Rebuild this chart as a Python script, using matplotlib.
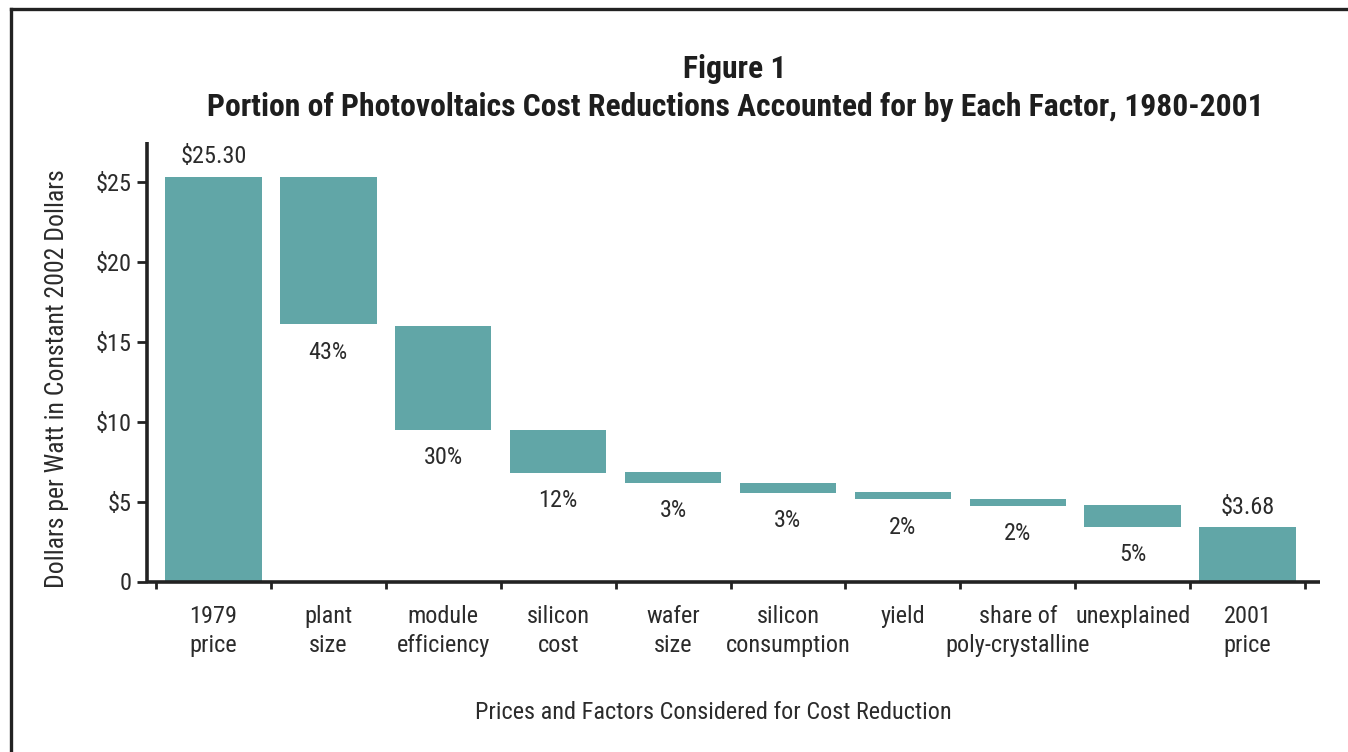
import matplotlib
matplotlib.use("Agg")
import matplotlib.pyplot as plt
from matplotlib import font_manager
from matplotlib.lines import Line2D
import numpy as np

# ---------------- data ----------------
categories = ["1979\nprice", "plant\nsize", "module\nefficiency", "silicon\ncost",
              "wafer\nsize", "silicon\nconsumption", "yield",
              "share of\npoly-crystalline", "unexplained", "2001\nprice"]
bar_top = [25.30, 25.26, 15.97, 9.49, 6.84, 6.16, 5.59, 5.16, 4.78, 3.41]
bar_bottom = [0.0, 16.07, 9.49, 6.80, 6.17, 5.55, 5.16, 4.74, 3.43, 0.0]
price_labels = {0: "$25.30", 9: "$3.68"}
pct_labels = {1: "43%", 2: "30%", 3: "12%", 4: "3%", 5: "3%", 6: "2%",
              7: "2%", 8: "5%"}
y_ticks = [0, 5, 10, 15, 20, 25]
y_tick_labels = ["0", "$5", "$10", "$15", "$20", "$25"]

title_line1 = "Figure 1"
title_line2 = "Portion of Photovoltaics Cost Reductions Accounted for by Each Factor, 1980-2001"
x_label = "Prices and Factors Considered for Cost Reduction"
y_label = "Dollars per Watt in Constant 2002 Dollars"

# ---------------- fonts ----------------
available = {f.name for f in font_manager.fontManager.ttflist}
family = "DejaVu Sans"
for cand in ["Liberation Sans Narrow", "Roboto Condensed", "Open Sans Condensed",
             "Liberation Sans", "Roboto"]:
    if cand in available:
        family = cand
        break
plt.rcParams["font.family"] = [family, "DejaVu Sans"]

TEXT = "#2b2b2b"
TEAL = "#61a6a7"
AXC = "#222222"
FS = 17.5

W, H = 1348, 752
fig = plt.figure(figsize=(W / 100, H / 100), dpi=100)
fig.patch.set_facecolor("white")

# axes placement (pixel-derived)
ax_left, ax_right = 147 / W, 1320 / W
ax_bottom, ax_top = 1 - 581.5 / H, 1 - 142 / H
ax = fig.add_axes([ax_left, ax_bottom, ax_right - ax_left, ax_top - ax_bottom])

x = np.arange(len(categories))
heights = [t - b for t, b in zip(bar_top, bar_bottom)]
ax.bar(x, heights, bottom=bar_bottom, width=0.84, color=TEAL, zorder=2)

ax.set_xlim(-0.578, 9.63)
ax.set_ylim(0, 27.47)

for s in ["top", "right"]:
    ax.spines[s].set_visible(False)
for s in ["left", "bottom"]:
    ax.spines[s].set_linewidth(2.6)
    ax.spines[s].set_color(AXC)
    ax.spines[s].set_capstyle("butt")

ax.set_yticks(y_ticks)
ax.set_yticklabels(y_tick_labels)
ax.tick_params(axis="y", direction="out", length=7, width=2, color=AXC,
               labelsize=FS, labelcolor=TEXT, pad=4)

ax.set_xticks(x)
ax.set_xticklabels(categories, linespacing=1.3)
ax.set_xticks(np.arange(len(categories) + 1) - 0.5, minor=True)
ax.tick_params(axis="x", which="major", length=0, labelsize=FS,
               labelcolor=TEXT, pad=17)
ax.tick_params(axis="x", which="minor", direction="out", length=5, width=2,
               color=AXC)

# value labels
for i, lab in price_labels.items():
    ax.annotate(lab, (x[i], bar_top[i]), xytext=(0, 6), textcoords="offset points",
                ha="center", va="bottom", fontsize=FS, color=TEXT)
for i, lab in pct_labels.items():
    ax.annotate(lab, (x[i], bar_bottom[i]), xytext=(0, -12), textcoords="offset points",
                ha="center", va="top", fontsize=FS, color=TEXT)

# titles and axis labels
fig.text(735 / W, 1 - 78 / H, title_line1, ha="center", va="baseline",
         fontsize=22.8, fontweight="bold", color="#1e1e1e")
fig.text(735 / W, 1 - 116 / H, title_line2, ha="center", va="baseline",
         fontsize=22.8, fontweight="bold", color="#1e1e1e")
fig.text(713 / W, 1 - 719 / H, x_label, ha="center", va="baseline",
         fontsize=FS, color=TEXT)
fig.text(57 / W, 1 - 379 / H, y_label, ha="center", va="center", rotation=90,
         fontsize=18.5, color=TEXT)

# frame lines (top and left)
fig.add_artist(Line2D([11 / W, 1.0], [1 - 9 / H, 1 - 9 / H], transform=fig.transFigure,
                      color=AXC, linewidth=2.4))
fig.add_artist(Line2D([11 / W, 11 / W], [1 - 9 / H, 0.0], transform=fig.transFigure,
                      color=AXC, linewidth=2.4))

fig.savefig("out.png", dpi=100, facecolor="white")
